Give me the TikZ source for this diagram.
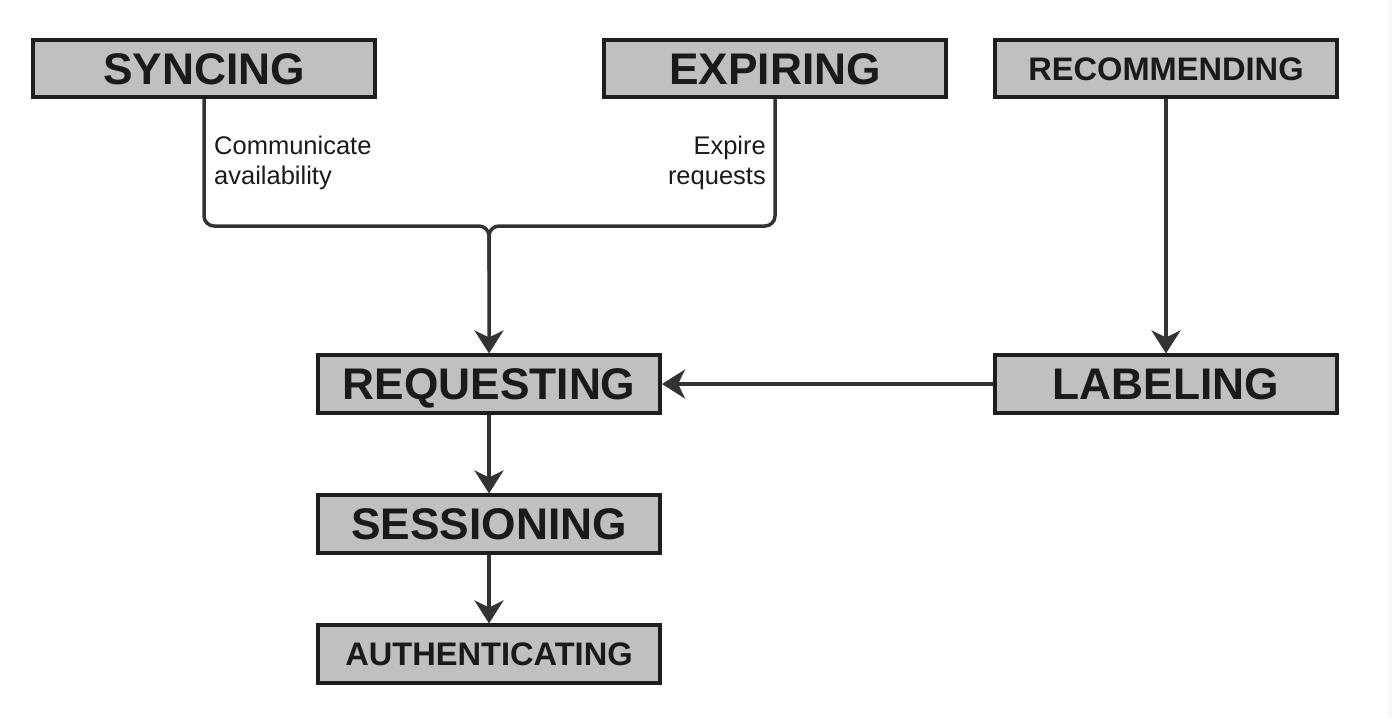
\documentclass[tikz,border=0pt]{standalone}
\usepackage{fontspec}
\setmainfont{Liberation Sans}
\usetikzlibrary{arrows.meta}
\definecolor{boxfill}{HTML}{C0C0C0}
\definecolor{boxline}{HTML}{1E1E1E}
\definecolor{conncol}{HTML}{333333}
\definecolor{txtcol}{HTML}{1A1A1A}
\tikzset{
  statebox/.style={draw=boxline, fill=boxfill, line width=3.6pt, minimum width=342.5pt, minimum height=57.5pt, inner sep=0pt, text=txtcol, text height=31.8pt, text depth=0pt, font=\bfseries\fontsize{44.3}{50}\selectfont},
  smallbox/.style={statebox, text height=23.4pt, font=\bfseries\fontsize{32.6}{38}\selectfont},
  wire/.style={draw=conncol, line width=3.5pt, rounded corners=10pt},
  conn/.style={wire, -{Stealth[length=23pt, width=29pt, inset=7pt]}},
  edgelabel/.style={inner sep=0pt, text=txtcol, font=\fontsize{25.5}{30}\selectfont}
}
\begin{document}
\begin{tikzpicture}[x=1pt, y=-1pt]
\useasboundingbox (0,0) rectangle (1392,718);
\fill[gray!7] (1388,0) rectangle (1392,718);
\node[statebox] (sync) at (204,68.5) {SYNCING};
\node[statebox] (exp) at (775,68.5) {EXPIRING};
\node[smallbox] (rec) at (1166,68.5) {RECOMMENDING};
\node[statebox] (req) at (489,384) {REQUESTING};
\node[statebox] (lab) at (1166,384) {LABELING};
\node[statebox] (ses) at (489,524) {SESSIONING};
\node[smallbox] (auth) at (489,654) {AUTHENTICATING};
\coordinate (j) at (489,226);
\coordinate (jb) at (489,270);
\draw[wire] (exp.south) |- (j) -- (jb);
\draw[conn] (sync.south) |- (j) -- (req.north);
\draw[conn] (rec.south) -- (lab.north);
\draw[conn] (lab.west) -- (req.east);
\draw[conn] (req.south) -- (ses.north);
\draw[conn] (ses.south) -- (auth.north);
\node[edgelabel, anchor=north west, align=left] (l1) at (214,136) {Communicate\\availability};
\node[edgelabel, anchor=north east, align=right] (l2) at (766,136) {Expire\\requests};
\end{tikzpicture}
\end{document}
